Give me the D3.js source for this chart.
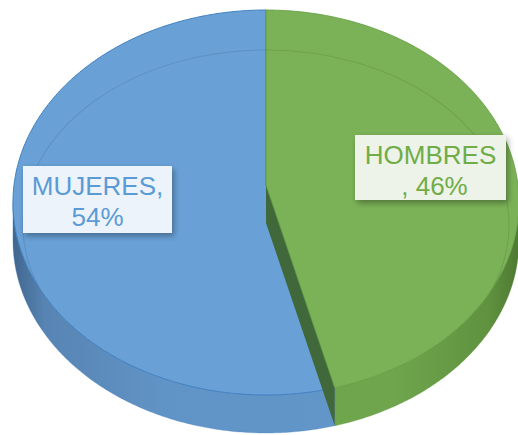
<!DOCTYPE html>
<html>
<head>
<meta charset="utf-8">
<script src="https://cdn.jsdelivr.net/npm/d3@7"></script>
<style>
  body { margin: 0; background: #fff; }
  svg { display: block; font-family: "Liberation Sans", Arial, sans-serif; }
</style>
</head>
<body>
<svg id="chart" width="518" height="435"></svg>
<script>
// data
const categories = ["HOMBRES", "MUJERES"];
const values = [46, 54];
const labels = ["HOMBRES\n, 46%", "MUJERES,\n54%"];

const svg = d3.select("#chart");
const cx = 266, cy = 185;     // pie centre on the top face
const rx = 252, ry = 190.9;   // radii before perspective
const k = 0.0909;             // perspective strength (front looks bigger)
const depth = 38;

const topCol = { HOMBRES: "#7bb257", MUJERES: "#69a1d7" };
const edgeCol = { HOMBRES: "#5e9a3c", MUJERES: "#3f7fbf" };
const textCol = { HOMBRES: "#70ad47", MUJERES: "#5b9bd5" };
const boxFill = { HOMBRES: "#eef3ea", MUJERES: "#edf3fb" };

// project a point of the disc: a = angle clockwise from 12 o'clock, r = 0..1, z = 0 top / 1 bottom
function proj(a, r, z) {
  const u = r * Math.sin(a), v = -r * Math.cos(a);
  const w = 1 - k * v;
  return [cx + rx * u / w, cy + ry * v / w + depth * z];
}
function arcPts(a0, a1, z) {
  const n = Math.max(2, Math.ceil(Math.abs(a1 - a0) / 0.01));
  return d3.range(n + 1).map(i => proj(a0 + (a1 - a0) * i / n, 1, z));
}
const line = d3.line();

const pie = d3.pie().sort(null).value(d => d.value);
const arcs = pie(categories.map((c, i) => ({ name: c, value: values[i], label: labels[i] })));

const defs = svg.append("defs");
const sideGrad = (id, stops) => {
  const g = defs.append("linearGradient").attr("id", id)
    .attr("gradientUnits", "userSpaceOnUse")
    .attr("x1", cx - rx).attr("x2", cx + rx).attr("y1", 0).attr("y2", 0);
  stops.forEach(s => g.append("stop").attr("offset", s[0]).attr("stop-color", s[1]));
};
sideGrad("side-MUJERES", [[0, "#41678f"], [0.06, "#5784b3"], [0.3, "#6194c6"], [1, "#6497ca"]]);
sideGrad("side-HOMBRES", [[0, "#6da34b"], [0.75, "#6fa64d"], [0.94, "#60923f"], [1, "#4e7a33"]]);

const shadow = defs.append("filter").attr("id", "shadow")
  .attr("x", "-20%").attr("y", "-20%").attr("width", "140%").attr("height", "150%");
shadow.append("feDropShadow").attr("dx", 2).attr("dy", 3)
  .attr("stdDeviation", 3).attr("flood-color", "#000").attr("flood-opacity", 0.35);

// outer sides, only the front half is seen
const frontA0 = Math.acos(-k), frontA1 = 2 * Math.PI - Math.acos(-k);
arcs.forEach(d => {
  const a0 = Math.max(d.startAngle, frontA0), a1 = Math.min(d.endAngle, frontA1);
  if (a1 <= a0) return;
  const pts = arcPts(a0, a1, 0).concat(arcPts(a1, a0, 1));
  svg.append("path")
    .attr("d", line(pts) + "Z")
    .attr("fill", `url(#side-${d.data.name})`)
    .attr("stroke", edgeCol[d.data.name]).attr("stroke-width", 0.6).attr("stroke-opacity", 0.5);
});

function topPath(d) {
  return line([proj(0, 0, 0)].concat(arcPts(d.startAngle, d.endAngle, 0))) + "Z";
}

// clip for the bevel ring
defs.append("clipPath").attr("id", "topclip")
  .selectAll("path").data(arcs).join("path").attr("d", topPath);

const blue = arcs.find(d => d.data.name === "MUJERES");
const green = arcs.find(d => d.data.name === "HOMBRES");

svg.append("path").attr("d", topPath(blue))
  .attr("fill", topCol.MUJERES).attr("stroke", edgeCol.MUJERES).attr("stroke-width", 1);

// cut face of the green slice
const e = green.endAngle;
svg.append("path")
  .attr("d", line([proj(e, 0, 0), proj(e, 1, 0), proj(e, 1, 1), proj(e, 0, 1)]) + "Z")
  .attr("fill", "#41683a");

svg.append("path").attr("d", topPath(green))
  .attr("fill", topCol.HOMBRES).attr("stroke", edgeCol.HOMBRES).attr("stroke-width", 0.8);

// bevel ring on the top face
svg.append("ellipse")
  .attr("cx", cx).attr("cy", 225).attr("rx", 243).attr("ry", 175)
  .attr("fill", "none").attr("stroke", "#000").attr("stroke-opacity", 0.09)
  .attr("stroke-width", 1.2).attr("clip-path", "url(#topclip)");

// data labels
const boxes = {
  MUJERES: { x: 23, y: 166, w: 149, h: 67 },
  HOMBRES: { x: 355, y: 135, w: 151, h: 65 }
};
arcs.forEach(d => {
  const b = boxes[d.data.name];
  const g = svg.append("g");
  g.append("rect").attr("x", b.x).attr("y", b.y).attr("width", b.w).attr("height", b.h)
    .attr("fill", boxFill[d.data.name]).attr("filter", "url(#shadow)");
  const t = g.append("text").attr("text-anchor", "middle")
    .attr("font-size", 26).attr("fill", textCol[d.data.name]);
  d.data.label.split("\n").forEach((s, i) => {
    t.append("tspan").attr("x", b.x + b.w / 2 + (i === 1 && d.data.name === "HOMBRES" ? 4 : 0))
      .attr("y", b.y + 29 + i * 30.5).text(s);
  });
});
</script>
</body>
</html>
